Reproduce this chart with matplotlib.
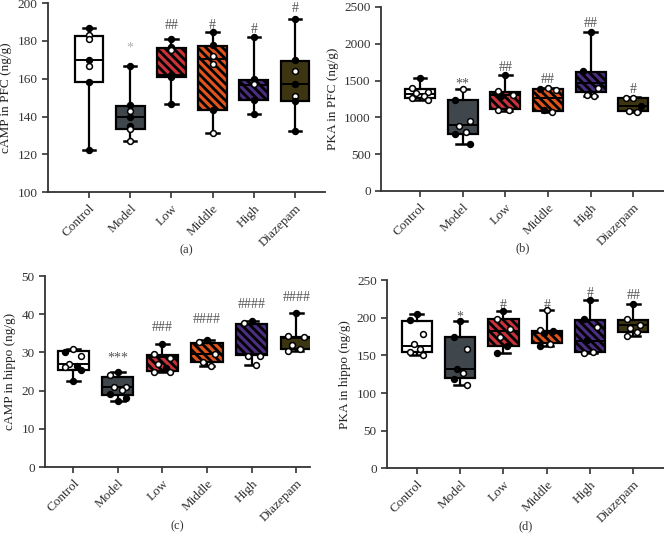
import matplotlib
matplotlib.use("Agg")
import matplotlib.pyplot as plt

plt.rcParams['font.family'] = ['Liberation Serif', 'DejaVu Serif']
plt.rcParams['hatch.linewidth'] = 2.0
plt.rcParams['hatch.color'] = 'black'

groups = ['Control', 'Model', 'Low', 'Middle', 'High', 'Diazepam']
colors = ['#ffffff', '#3f464c', '#c8323a', '#e0541c', '#4b2d7f', '#3d3512']
hatches = ['', '', '\\\\\\\\', '\\\\\\\\', '\\\\\\\\', '']

# box stats per group: whisker low, q1, median, q3, whisker high
a_stats = [[122.5, 158.5, 170, 182.5, 187], [127, 133.5, 140, 145.5, 167],
           [146.5, 161, 162, 176.5, 181], [131.5, 143.5, 170.5, 177.5, 185],
           [141.5, 148.5, 156.5, 159.5, 182], [132.5, 148, 157, 169.5, 191.5]]
a_pts = [[187, 183, 181, 170, 166.5, 158.5, 122.5], [167, 146, 143, 140, 135, 133.5, 127],
         [181, 177, 175, 162, 161, 146.5], [185, 178, 172, 168, 143.5, 131.5],
         [182, 160, 157, 148.5, 141.5], [191.5, 170, 164, 157, 151, 148, 132.5]]
a_open = [[0, 1, 1, 0, 1, 0, 0], [0, 0, 1, 0, 0, 1, 1], [0, 0, 1, 0, 0, 0],
          [0, 0, 1, 1, 0, 1], [0, 0, 1, 0, 0], [0, 0, 1, 0, 1, 0, 0]]
a_sig = ['', '*', '##', '#', '#', '#']
a_sig_y = [0, 176, 188, 188, 186, 197]

b_stats = [[1230, 1265, 1320, 1390, 1540], [640, 780, 890, 1230, 1390],
           [1090, 1120, 1300, 1350, 1570], [1075, 1085, 1270, 1380, 1400],
           [1290, 1340, 1470, 1620, 2160], [1070, 1085, 1160, 1260, 1280]]
b_pts = [[1540, 1400, 1350, 1330, 1290, 1260, 1235], [1390, 1230, 950, 880, 800, 780, 640],
         [1570, 1360, 1300, 1290, 1100, 1100], [1400, 1390, 1370, 1100, 1075],
         [2160, 1630, 1400, 1310, 1290], [1270, 1260, 1160, 1080, 1070]]
b_open = [[0, 1, 1, 1, 1, 1, 1], [1, 0, 1, 1, 1, 0, 0], [0, 1, 1, 0, 1, 1],
          [1, 0, 1, 0, 1], [0, 0, 1, 1, 1], [1, 1, 0, 1, 1]]
b_sig = ['', '**', '##', '##', '##', '#']
b_sig_y = [0, 1450, 1680, 1520, 2280, 1380]

c_stats = [[22.5, 25.5, 27, 30.5, 31], [17.3, 18.8, 21, 23.5, 25],
           [25, 25.2, 28.8, 29.3, 32.2], [26.5, 27.5, 29.5, 32.5, 33.3],
           [26.8, 29.3, 29.5, 37.5, 38.3], [30.5, 30.8, 33.7, 34, 40.2]]
c_pts = [[31, 30, 29.2, 27, 26.5, 26.3, 25.5, 22.5], [25, 24.2, 21, 21, 20.3, 19, 18, 17.3],
         [32.2, 29.7, 28.5, 27, 26, 25, 25], [33.3, 32.8, 29.5, 27.5, 26.5],
         [38.3, 37.8, 29, 29, 26.8], [40.2, 34.3, 34, 32, 30.8, 30.5]]
c_open = [[1, 0, 1, 1, 0, 1, 0, 0], [0, 1, 1, 1, 1, 0, 0, 0], [0, 1, 1, 1, 0, 1, 1],
          [0, 1, 1, 1, 1], [0, 1, 1, 1, 1], [0, 1, 1, 1, 1, 1]]
c_sig = ['', '***', '###', '####', '####', '####']
c_sig_y = [0, 28.5, 36.5, 38.5, 42.5, 44.5]

d_stats = [[150, 154, 163, 196, 205], [110, 120, 132, 175, 196],
           [153, 163, 182, 199, 209], [163, 167, 180, 183, 211],
           [153, 154, 169, 197, 224], [176, 181, 191, 197, 219]]
d_pts = [[205, 197, 178, 165, 158, 154, 150], [196, 175, 159, 132, 126, 118, 110],
         [209, 198, 185, 174, 162, 153], [211, 184, 182, 180, 165, 163],
         [224, 198, 188, 170, 154, 153], [219, 198, 191, 187, 181, 176]]
d_open = [[0, 0, 1, 1, 1, 1, 1], [0, 0, 1, 0, 1, 0, 1], [0, 1, 1, 1, 0, 0],
          [1, 1, 0, 0, 1, 0], [0, 0, 1, 0, 1, 1], [0, 1, 1, 1, 1, 1]]
d_sig = ['', '*', '#', '#', '#', '##']
d_sig_y = [0, 201, 217, 217, 232, 230]

panels = [
    # stats, pts, open, sig, sig_y, ylabel, ylim, yticks, xlim, rect, tag, jitter
    (a_stats, a_pts, a_open, a_sig, a_sig_y, 'cAMP in PFC (ng/g)', (100, 200),
     range(100, 201, 20), (-1.0, 5.72), [0.072, 0.641, 0.417, 0.353], '(a)', 0.0),
    (b_stats, b_pts, b_open, b_sig, b_sig_y, 'PKA in PFC (ng/g)', (0, 2500),
     range(0, 2501, 500), (-0.91, 5.72), [0.574, 0.643, 0.426, 0.344], '(b)', 0.18),
    (c_stats, c_pts, c_open, c_sig, c_sig_y, 'cAMP in hippo (ng/g)', (0, 50),
     range(0, 51, 10), (-0.63, 5.31), [0.068, 0.127, 0.399, 0.357], '(c)', 0.18),
    (d_stats, d_pts, d_open, d_sig, d_sig_y, 'PKA in hippo (ng/g)', (0, 250),
     range(0, 251, 50), (-0.69, 5.71), [0.583, 0.125, 0.417, 0.351], '(d)', 0.15),
]

fig = plt.figure(figsize=(6.64, 5.35), dpi=100)

for stats, pts, opn, sig, sig_y, ylab, ylim, yticks, xlim, rect, tag, jit in panels:
    ax = fig.add_axes(rect)
    bstats = []
    for s in stats:
        bstats.append(dict(whislo=s[0], q1=s[1], med=s[2], q3=s[3], whishi=s[4], fliers=[]))
    bp = ax.bxp(bstats, positions=range(len(groups)), widths=0.7, patch_artist=True,
                showfliers=False,
                boxprops=dict(linewidth=1.6, edgecolor='black'),
                medianprops=dict(color='black', linewidth=1.4),
                whiskerprops=dict(color='black', linewidth=1.6),
                capprops=dict(color='black', linewidth=1.8), capwidths=0.3)
    for patch, c, h in zip(bp['boxes'], colors, hatches):
        patch.set_facecolor(c)
        patch.set_hatch(h)
    offs = [0, -1, 1, -0.5, 0.5, -1, 1, 0]
    for i, (vals, ops) in enumerate(zip(pts, opn)):
        for j, (v, o) in enumerate(zip(vals, ops)):
            ax.plot(i + jit * offs[j % len(offs)], v, 'o', ms=4.2, mew=1.1,
                    mec='black', mfc='white' if o else 'black', zorder=5)
    for i, (t, y) in enumerate(zip(sig, sig_y)):
        if t:
            col = '#b0b0b0' if (tag == '(a)' and t == '*') else '#555555'
            ax.text(i, y, t, ha='center', va='center', fontsize=10, color=col)
    ax.set_ylim(*ylim)
    ax.set_xlim(*xlim)
    ax.set_yticks(list(yticks))
    ax.set_xticks(range(len(groups)))
    ax.set_xticklabels(groups, rotation=45, ha='right', rotation_mode='anchor')
    ax.set_ylabel(ylab, fontsize=9.5, color='#222222')
    ax.tick_params(labelsize=9.5, colors='#333333', width=1.2, length=4)
    for sp in ['top', 'right']:
        ax.spines[sp].set_visible(False)
    for sp in ['left', 'bottom']:
        ax.spines[sp].set_linewidth(1.3)
        ax.spines[sp].set_color('#333333')
    ax.text(0.5, -0.31, tag, transform=ax.transAxes, ha='center', va='center',
            fontsize=9, color='#333333')

fig.savefig('out.png', dpi=100)
